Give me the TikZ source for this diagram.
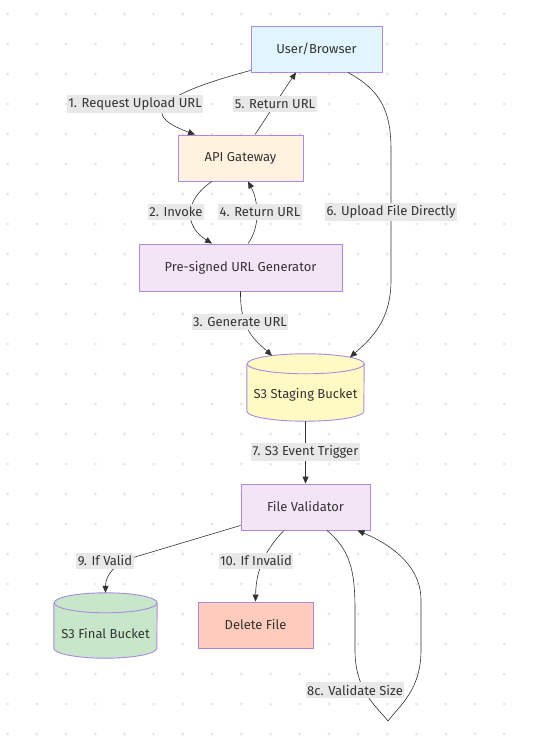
\documentclass[tikz,border=0pt]{standalone}
\usepackage{fontspec}
\setmainfont{Fira Sans}
\usetikzlibrary{arrows.meta,calc}
\definecolor{bordercol}{HTML}{A88BE0}
\definecolor{linecol}{HTML}{333333}
\definecolor{textcol}{HTML}{333333}
\definecolor{lblgray}{HTML}{E8E8E8}
\definecolor{dotcol}{HTML}{E4E4E4}
\definecolor{userfill}{HTML}{E1F5FE}
\definecolor{apifill}{HTML}{FFF3E0}
\definecolor{genfill}{HTML}{F3E5F5}
\definecolor{stagefill}{HTML}{FFF9C4}
\definecolor{finalfill}{HTML}{C8E6C9}
\definecolor{delfill}{HTML}{FFCCBC}
\tikzset{
  every node/.style={font=\fontsize{13}{15.5}\selectfont,text=textcol},
  box/.style={draw=bordercol,line width=.9pt,minimum height=46pt,inner sep=0pt},
  bucket/.style={inner sep=0pt,minimum height=#1},
  flow/.style={draw=linecol,line width=.6pt,-{Triangle[length=7pt,width=6pt]}},
  lbl/.style={fill=lblgray,inner xsep=1.5pt,inner ysep=3pt}
}
% cylinder outline drawn from the anchors of a named node
\newcommand\drawbucket[3]{%
  \filldraw[fill=#2,draw=bordercol,line width=.9pt]
    ([yshift=-10pt]#1.north west) -- ([yshift=10pt]#1.south west)
    arc[start angle=180,end angle=360,x radius=#3,y radius=10pt]
    -- ([yshift=-10pt]#1.north east)
    arc[start angle=0,end angle=180,x radius=#3,y radius=10pt];
  \draw[bordercol,line width=.9pt] ([yshift=-10pt]#1.north east)
    arc[start angle=0,end angle=-180,x radius=#3,y radius=10pt];
}

\begin{document}
\begin{tikzpicture}[x=1pt,y=-1pt]
  \useasboundingbox[fill=white] (0,0) rectangle (536,754);
  % dotted background
  \foreach \i in {0,...,17}
    \foreach \j in {0,...,24}
      \fill[dotcol] (7.7+29.2*\i,14+30*\j) circle[radius=1.5pt];

  \node[box,fill=userfill,minimum width=131pt] (user) at (316.5,49) {User/Browser};
  \node[box,fill=apifill,minimum width=125pt] (api) at (240.5,158) {API Gateway};
  \node[box,fill=genfill,minimum width=203pt,minimum height=47pt] (gen) at (240.5,267.5) {Pre-signed URL Generator};
  \node[bucket=67pt,minimum width=117pt] (stage) at (305.5,387.5) {};
  \node[box,fill=genfill,minimum width=129pt] (val) at (305.5,507) {File Validator};
  \node[bucket=65pt,minimum width=103pt] (final) at (105.5,625.5) {};
  \node[box,fill=delfill,minimum width=115pt] (del) at (255.5,625) {Delete File};

  \drawbucket{stage}{stagefill}{58.5pt}
  \drawbucket{final}{finalfill}{51.5pt}
  \node (stagetxt) at ([yshift=-7pt]stage.center) {S3 Staging Bucket};
  \node (finaltxt) at ([yshift=-8pt]final.center) {S3 Final Bucket};

  \draw[flow] ([yshift=2pt]user.south west) .. controls (140,100) and (150,118) .. ([xshift=-45.5pt]api.north);
  \draw[flow] ([xshift=14.5pt]api.north) .. controls (268,115) and (284,90) .. ([xshift=-20.5pt]user.south);
  \draw[flow] ([xshift=-28.5pt]api.south) .. controls (184,200) and (184,226) .. ([xshift=-28.5pt]gen.north);
  \draw[flow] ([xshift=7.5pt]gen.north) .. controls (261,226) and (258,200) .. ([xshift=7.5pt]api.south);
  \draw[flow] ([xshift=31.5pt]user.south) .. controls (380,90) and (391,110) .. (391,150)
    -- (391,280) .. controls (391,320) and (372,338) .. ([xshift=44.5pt,yshift=-3.5pt]stage.north);
  \draw[flow] (gen.south) .. controls (240,330) and (255,340) .. ([xshift=-33.5pt,yshift=-2pt]stage.north);
  \draw[flow] (stage.south) -- (val.north);
  \draw[flow] ([yshift=5pt]val.south west) -- (135,557) .. controls (115,563) and (105.5,575) .. (final.north);
  \draw[flow] ([xshift=-21.5pt]val.south) .. controls (265,550) and (256,570) .. (del.north);
  \draw[flow] ([xshift=21.5pt]val.south) .. controls (350,550) and (355,570) .. (355,610)
    -- (355,650) .. controls (355,690) and (375,705) .. (388,721)
    .. controls (400,705) and (421,690) .. (421,650) -- (421,600)
    .. controls (421,560) and (380,540) .. ([xshift=52pt]val.south);

  \node[lbl] (l1) at (135,104) {1. Request Upload URL};
  \node[lbl] (l5) at (275,104) {5. Return URL};
  \node[lbl] (l2) at (176,212) {2. Invoke};
  \node[lbl] (l4) at (260,212) {4. Return URL};
  \node[lbl] (l6) at (391,212) {6. Upload File Directly};
  \node[lbl] (l3) at (240,322) {3. Generate URL};
  \node[lbl] (l7) at (305.5,452) {7. S3 Event Trigger};
  \node[lbl] (l9) at (105,561) {9. If Valid};
  \node[lbl] (l10) at (256,561) {10. If Invalid};
  \node[lbl] (l8) at (355,690) {8c. Validate Size};
\end{tikzpicture}
\end{document}
